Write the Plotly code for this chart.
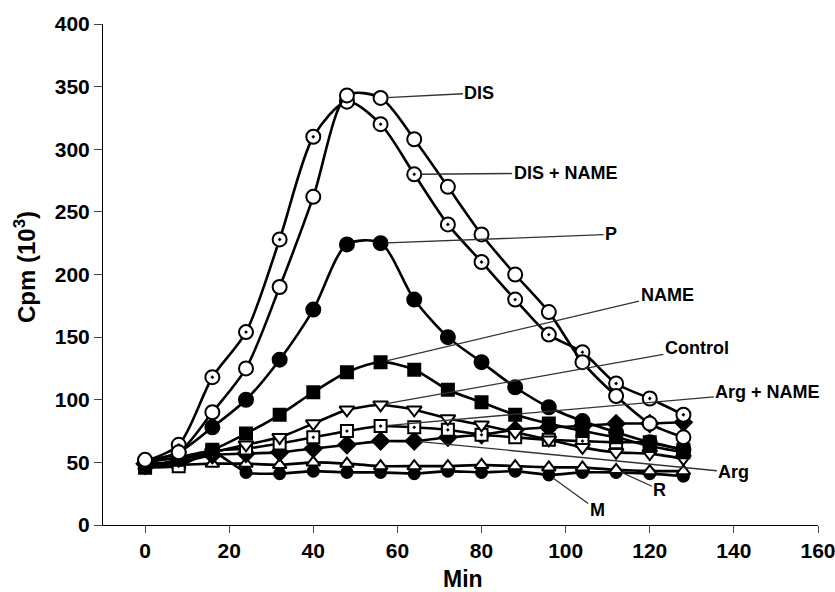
import plotly.graph_objects as go

minutes = [0, 8, 16, 24, 32, 40, 48, 56, 64, 72, 80, 88, 96, 104, 112, 120, 128]

dis =      [52, 58, 90, 125, 190, 262, 343, 341, 308, 270, 232, 200, 170, 130, 103, 81, 70]
dis_name = [51, 64, 118, 154, 228, 310, 338, 320, 280, 240, 210, 180, 152, 138, 113, 101, 88]
p_vals =   [51, 58, 78, 100, 132, 172, 224, 225, 180, 150, 130, 110, 94, 83, 74, 66, 60]
name_v =   [46, 52, 60, 73, 88, 106, 122, 130, 124, 108, 98, 88, 81, 75, 70, 63, 58]
control =  [46, 52, 58, 64, 70, 81, 92, 96, 92, 85, 80, 74, 68, 62, 58, 57, 53]
arg_name = [46, 47, 59, 61, 65, 70, 75, 79, 78, 76, 72, 70, 68, 67, 66, 66, 60]
arg =      [49, 50, 56, 57, 58, 61, 64, 67, 67, 70, 72, 76, 78, 79, 81, 81, 82]
r_vals =   [47, 48, 49, 49, 48, 50, 49, 47, 47, 47, 48, 47, 46, 46, 44, 43, 43]
m_vals =   [50, 54, 59, 42, 41, 43, 42, 42, 41, 43, 42, 43, 40, 42, 42, 41, 39]

x_ticks = [0, 20, 40, 60, 80, 100, 120, 140, 160]
y_ticks = [0, 50, 100, 150, 200, 250, 300, 350, 400]

FONT = "Liberation Sans, Arial, sans-serif"

fig = go.Figure()

def add(vals, symbol, fill, size, name, smooth=0.8, lw=2.6):
    fig.add_trace(go.Scatter(
        x=minutes, y=vals, mode="lines+markers", name=name,
        line=dict(color="black", width=lw, shape="spline", smoothing=smooth),
        marker=dict(symbol=symbol, size=size, color=fill,
                    line=dict(color="black", width=2)),
        showlegend=False, cliponaxis=False))

add(m_vals, "circle", "black", 11, "M", 0.4)
add(r_vals, "triangle-up", "white", 12, "R", 0.3)
add(arg, "diamond", "black", 13, "Arg", 0.3)
add(arg_name, "square-dot", "white", 12, "Arg + NAME", 0.3)
add(control, "triangle-down", "white", 13, "Control", 0.5)
add(name_v, "square", "black", 12, "NAME")
add(p_vals, "circle", "black", 14, "P")
add(dis_name, "circle-dot", "white", 14, "DIS + NAME")
add(dis, "circle", "white", 14, "DIS")

labels = [
    ("DIS", dis, 7, 79.5, 345),
    ("DIS + NAME", dis_name, 8, 100.0, 281),
    ("P", p_vals, 7, 110.8, 232),
    ("NAME", name_v, 7, 124.1, 184),
    ("Control", control, 7, 131.2, 141),
    ("Arg + NAME", arg_name, 7, 148.1, 106),
    ("Arg", arg, 8, 140.0, 42),
    ("R", r_vals, 14, 122.4, 28),
    ("M", m_vals, 12, 107.5, 12),
]
for text, series, idx, lx, ly in labels:
    fig.add_annotation(
        x=minutes[idx], y=series[idx], ax=lx, ay=ly, axref="x", ayref="y",
        text="<b>" + text + "</b>", showarrow=True, arrowhead=0,
        arrowwidth=1.3, arrowcolor="#333333", standoff=6,
        font=dict(family=FONT, size=18, color="black"))

# axis titles
fig.add_annotation(x=0.503, y=-0.108, xref="paper", yref="paper",
                   text="<b>Min</b>", showarrow=False,
                   xanchor="center", yanchor="middle",
                   font=dict(family=FONT, size=23, color="black"))
fig.add_annotation(x=-0.109, y=0.515, xref="paper", yref="paper",
                   text="<b>Cpm (10<sup>3</sup>)</b>", showarrow=False,
                   textangle=-90, xanchor="center", yanchor="middle",
                   font=dict(family=FONT, size=24, color="black"))

fig.update_layout(
    width=835, height=592,
    margin=dict(l=103, r=17, t=24, b=67),
    paper_bgcolor="white", plot_bgcolor="white",
    font=dict(family=FONT, color="black"),
)
fig.update_xaxes(
    range=[-10, 160], tickvals=x_ticks, ticktext=["<b>%d</b>" % v for v in x_ticks],
    showgrid=False, zeroline=False, showline=True, linecolor="black", linewidth=1,
    ticks="outside", ticklen=7, tickcolor="#444444", automargin=False,
    ticklabeloverflow="allow",
    tickfont=dict(family=FONT, size=21),
)
fig.update_yaxes(
    range=[0, 400], tickvals=y_ticks, ticktext=["<b>%d</b>" % v for v in y_ticks],
    showgrid=False, zeroline=False, showline=True, linecolor="black", linewidth=1,
    ticks="outside", ticklen=8, tickcolor="#444444", automargin=False,
    ticklabeloverflow="allow",
    tickfont=dict(family=FONT, size=21),
)

# remove the default page margin so the figure fills the window exactly
fig.write_html("out.html",
               config={"displayModeBar": False},
               post_script="document.body.style.margin='0px';document.body.style.overflow='hidden';")
